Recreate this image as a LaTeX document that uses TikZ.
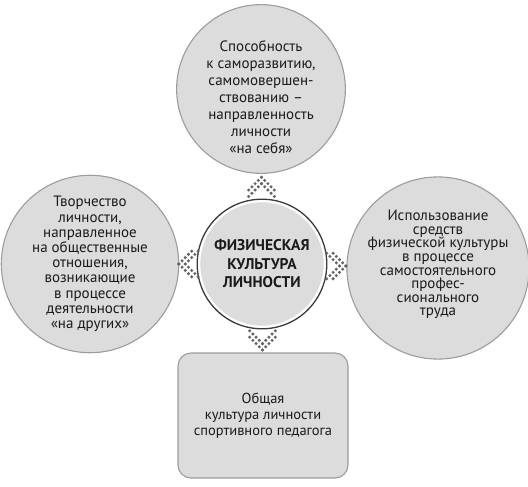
\documentclass[tikz,border=0pt]{standalone}
\usepackage{fontspec}
\setmainfont{PT Sans}
\usepackage{xcolor}
\usetikzlibrary{
    calc,
    positioning
}
\definecolor{discfill}{HTML}{DCDCDC}
\definecolor{discedge}{HTML}{9C9C9C}
\definecolor{coreedge}{HTML}{3A3A3A}
\definecolor{dotgray}{HTML}{666666}
\definecolor{inkgray}{HTML}{1A1A1A}
\tikzset{
    disc/.style={circle, draw=discedge, line width=1.1pt, fill=discfill,
        align=center, inner sep=0pt, text=inkgray},
    chevrons/.pic={
        \foreach \k in {0,1}
            \foreach \i in {0,...,4} {
                \fill[dotgray] ({-\i*3.2},{\i*3.2+\k*6.4-9.6}) circle[radius=1.7pt];
                \fill[dotgray] ({\i*3.2},{\i*3.2+\k*6.4-9.6}) circle[radius=1.7pt];
            }
    }
}

\begin{document}
\begin{tikzpicture}[x=1pt, y=-1pt]
    \useasboundingbox (0,0) rectangle (528,487);
    \node[disc, minimum size=168pt, font=\fontsize{15}{17}\selectfont] (self) at (261, 89)
        {\rule{0pt}{27pt}Способность\\к саморазвитию,\\самомовершен-\\ствованию –\\направленность\\личности\\«на себя»};
    \node[disc, minimum size=168pt, font=\fontsize{15}{15.2}\selectfont] (other) at (90, 264)
        {Творчество\\личности,\\направленное\\на общественные\\отношения,\\возникающие\\в процессе\\деятельности\\«на других»};
    \node[disc, minimum size=172pt, font=\fontsize{15}{13.6}\selectfont] (work) at (438, 268)
        {Использование\\средств\\физической культуры\\в процессе\\самостоятельного\\профес-\\сионального\\труда\rule[-10pt]{0pt}{0pt}};
    \node[circle, minimum size=126pt, fill=discfill, draw=white, line width=2.6pt,
        align=center, text=inkgray, font=\fontsize{15.5}{18.5}\selectfont\bfseries] (core) at (262, 264)
        {ФИЗИЧЕСКАЯ\\КУЛЬТУРА\\ЛИЧНОСТИ};
    \draw[coreedge, line width=1.3pt] (core.center) circle[radius=64.8pt];
    \node[rectangle, rounded corners=13pt, draw=discedge, line width=1.1pt, fill=discfill,
        minimum width=170pt, minimum height=125pt, align=center, text=inkgray,
        font=\fontsize{14.5}{15.8}\selectfont] (common) at (263, 415.5)
        {Общая\\культура личности\\спортивного педагога};
    % dotted chevrons between the discs
    \pic at ($(core.north)!0.5!(self.south)$) {chevrons};
    \pic[rotate=90] at ($(core.west)!0.5!(other.east)$) {chevrons};
    \pic[rotate=-90] at ($(core.east)!0.5!(work.west)$) {chevrons};
    \pic[rotate=180] at ($(core.south)!0.5!(common.north)$) {chevrons};
\end{tikzpicture}
\end{document}
